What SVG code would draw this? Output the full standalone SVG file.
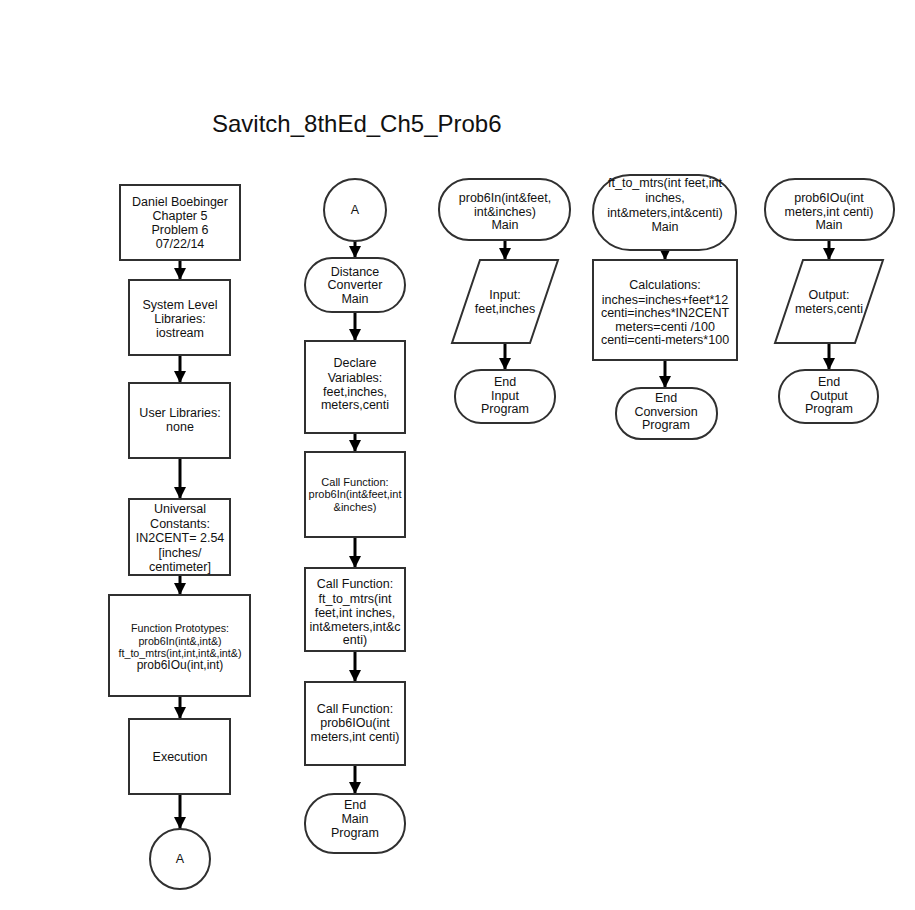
<svg xmlns="http://www.w3.org/2000/svg" width="915" height="910" viewBox="0 0 915 910">
<defs>
<style>
.bx{fill:#fff;stroke:#303030;stroke-width:2}
.t{font-family:"Liberation Sans",Arial,sans-serif;font-size:12.5px;fill:#111;text-anchor:middle}
.s{font-size:10.7px}
.xs{font-size:11px}
.c{stroke:#000;stroke-width:3;fill:none}
</style>
<marker id="ah" markerUnits="userSpaceOnUse" markerWidth="14" markerHeight="12" refX="12" refY="6" orient="auto">
<path d="M0,0 L12,6 L0,12 Z" fill="#000"/>
</marker>
</defs>
<rect width="915" height="910" fill="#fff"/>
<text x="212" y="132" font-family="Liberation Sans,Arial,sans-serif" font-size="24" fill="#111">Savitch_8thEd_Ch5_Prob6</text>

<g id="connectors">
<line class="c" x1="180" y1="260" x2="180" y2="280" marker-end="url(#ah)"/>
<line class="c" x1="180" y1="355" x2="180" y2="383" marker-end="url(#ah)"/>
<line class="c" x1="180" y1="458" x2="180" y2="499" marker-end="url(#ah)"/>
<line class="c" x1="180" y1="575" x2="180" y2="595" marker-end="url(#ah)"/>
<line class="c" x1="180" y1="696" x2="180" y2="719" marker-end="url(#ah)"/>
<line class="c" x1="180" y1="794" x2="180" y2="829" marker-end="url(#ah)"/>
<line class="c" x1="355" y1="241" x2="355" y2="258" marker-end="url(#ah)"/>
<line class="c" x1="355" y1="312" x2="355" y2="341" marker-end="url(#ah)"/>
<line class="c" x1="355" y1="433" x2="355" y2="452" marker-end="url(#ah)"/>
<line class="c" x1="355" y1="537" x2="355" y2="568" marker-end="url(#ah)"/>
<line class="c" x1="355" y1="651" x2="355" y2="682" marker-end="url(#ah)"/>
<line class="c" x1="355" y1="765" x2="355" y2="794" marker-end="url(#ah)"/>
<line class="c" x1="505" y1="240" x2="505" y2="260" marker-end="url(#ah)"/>
<line class="c" x1="505" y1="343" x2="505" y2="370" marker-end="url(#ah)"/>
<line class="c" x1="665" y1="250" x2="665" y2="260" marker-end="url(#ah)"/>
<line class="c" x1="665" y1="360" x2="665" y2="388" marker-end="url(#ah)"/>
<line class="c" x1="829" y1="240" x2="829" y2="260" marker-end="url(#ah)"/>
<line class="c" x1="829" y1="343" x2="829" y2="370" marker-end="url(#ah)"/>
</g>

<g id="n_author">
<rect class="bx" x="120" y="185" width="120" height="75"/>
<text class="t" x="180" y="206">Daniel Boebinger</text>
<text class="t" x="180" y="220">Chapter 5</text>
<text class="t" x="180" y="234">Problem 6</text>
<text class="t" x="180" y="248">07/22/14</text>
</g>
<g id="n_syslib">
<rect class="bx" x="129" y="280" width="101" height="75"/>
<text class="t" x="180" y="309">System Level</text>
<text class="t" x="180" y="323">Libraries:</text>
<text class="t" x="180" y="337">iostream</text>
</g>
<g id="n_userlib">
<rect class="bx" x="129" y="383" width="101" height="75"/>
<text class="t" x="180" y="417">User Libraries:</text>
<text class="t" x="180" y="431">none</text>
</g>
<g id="n_const">
<rect class="bx" x="129" y="499" width="101" height="76"/>
<text class="t" x="180" y="513">Universal</text>
<text class="t" x="180" y="528">Constants:</text>
<text class="t" x="180" y="542">IN2CENT= 2.54</text>
<text class="t" x="180" y="557">[inches/</text>
<text class="t" x="180" y="571">centimeter]</text>
</g>
<g id="n_proto">
<rect class="bx" x="109" y="595" width="141" height="101"/>
<text class="t s" x="180" y="632">Function Prototypes:</text>
<text class="t s" x="180" y="645">prob6In(int&amp;,int&amp;)</text>
<text class="t s" x="180" y="657">ft_to_mtrs(int,int,int&amp;,int&amp;)</text>
<text class="t" x="180" y="669" style="font-size:12px">prob6IOu(int,int)</text>
</g>
<g id="n_exec">
<rect class="bx" x="129" y="719" width="101" height="75"/>
<text class="t" x="180" y="761">Execution</text>
</g>
<g id="n_A1">
<circle class="bx" cx="180" cy="859" r="30"/>
<text class="t" x="180" y="863">A</text>
</g>

<g id="n_A2">
<circle class="bx" cx="355" cy="210" r="31"/>
<text class="t" x="355" y="214">A</text>
</g>
<g id="n_main">
<rect class="bx" x="305" y="258" width="100" height="54" rx="27"/>
<text class="t" x="355" y="276">Distance</text>
<text class="t" x="355" y="289">Converter</text>
<text class="t" x="355" y="303">Main</text>
</g>
<g id="n_declare">
<rect class="bx" x="305" y="341" width="100" height="92"/>
<text class="t" x="355" y="367">Declare</text>
<text class="t" x="355" y="382">Variables:</text>
<text class="t" x="355" y="396">feet,inches,</text>
<text class="t" x="355" y="409">meters,centi</text>
</g>
<g id="n_call1">
<rect class="bx" x="305" y="452" width="100" height="85"/>
<text class="t xs" x="355" y="486">Call Function:</text>
<text class="t xs" x="355" y="498">prob6In(int&amp;feet,int</text>
<text class="t xs" x="355" y="511">&amp;inches)</text>
</g>
<g id="n_call2">
<rect class="bx" x="305" y="568" width="100" height="83"/>
<text class="t" x="355" y="588">Call Function:</text>
<text class="t" x="355" y="603">ft_to_mtrs(int</text>
<text class="t" x="355" y="617">feet,int inches,</text>
<text class="t" x="355" y="631">int&amp;meters,int&amp;c</text>
<text class="t" x="355" y="644">enti)</text>
</g>
<g id="n_call3">
<rect class="bx" x="305" y="682" width="100" height="83"/>
<text class="t" x="355" y="713">Call Function:</text>
<text class="t" x="355" y="727">prob6IOu(int</text>
<text class="t" x="355" y="741">meters,int centi)</text>
</g>
<g id="n_endmain">
<rect class="bx" x="305" y="794" width="100" height="59" rx="29"/>
<text class="t" x="355" y="809">End</text>
<text class="t" x="355" y="823">Main</text>
<text class="t" x="355" y="837">Program</text>
</g>

<g id="n_in_start">
<rect class="bx" x="439" y="179" width="131" height="61" rx="30"/>
<text class="t" x="505" y="202">prob6In(int&amp;feet,</text>
<text class="t" x="505" y="216">int&amp;inches)</text>
<text class="t" x="505" y="229">Main</text>
</g>
<g id="n_input">
<polygon class="bx" points="480,260 558,260 530,343 452,343"/>
<text class="t" x="505" y="299">Input:</text>
<text class="t" x="505" y="313">feet,inches</text>
</g>
<g id="n_in_end">
<rect class="bx" x="455" y="370" width="100" height="53" rx="26"/>
<text class="t" x="505" y="386">End</text>
<text class="t" x="505" y="400">Input</text>
<text class="t" x="505" y="413">Program</text>
</g>

<g id="n_conv_start">
<rect class="bx" x="593" y="175" width="143" height="75" rx="37"/>
<text class="t" x="665" y="187">ft_to_mtrs(int feet,int</text>
<text class="t" x="665" y="202">inches,</text>
<text class="t" x="665" y="217">int&amp;meters,int&amp;centi)</text>
<text class="t" x="665" y="231">Main</text>
</g>
<g id="n_calc">
<rect class="bx" x="593" y="260" width="144" height="100"/>
<text class="t" x="665" y="289">Calculations:</text>
<text class="t" x="665" y="304">inches=inches+feet*12</text>
<text class="t" x="665" y="317">centi=inches*IN2CENT</text>
<text class="t" x="665" y="331">meters=centi /100</text>
<text class="t" x="665" y="344">centi=centi-meters*100</text>
</g>
<g id="n_conv_end">
<rect class="bx" x="616" y="388" width="101" height="51" rx="25"/>
<text class="t" x="666" y="402">End</text>
<text class="t" x="666" y="416">Conversion</text>
<text class="t" x="666" y="429">Program</text>
</g>

<g id="n_out_start">
<rect class="bx" x="765" y="179" width="129" height="61" rx="30"/>
<text class="t" x="829" y="202">prob6IOu(int</text>
<text class="t" x="829" y="216">meters,int centi)</text>
<text class="t" x="829" y="229">Main</text>
</g>
<g id="n_output">
<polygon class="bx" points="803,260 883,260 855,343 775,343"/>
<text class="t" x="829" y="299">Output:</text>
<text class="t" x="829" y="313">meters,centi</text>
</g>
<g id="n_out_end">
<rect class="bx" x="779" y="370" width="99" height="53" rx="26"/>
<text class="t" x="829" y="386">End</text>
<text class="t" x="829" y="400">Output</text>
<text class="t" x="829" y="413">Program</text>
</g>
</svg>
